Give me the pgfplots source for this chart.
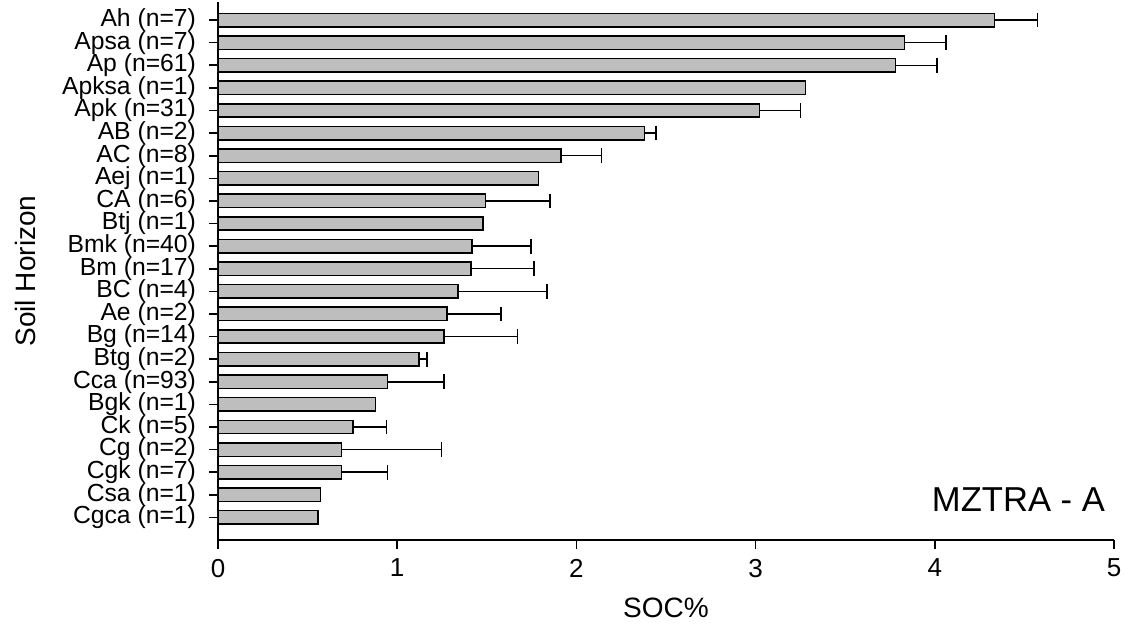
\documentclass[border=0pt]{standalone}
\usepackage{fontspec}
\setmainfont{Liberation Sans}
\usepackage{pgfplots}
\usepackage{pgfplotstable}
\pgfplotsset{compat=1.18}
\definecolor{bargray}{RGB}{190,190,190}
\pgfplotstableread{
y x e
0 0.559 0
1 0.571 0
2 0.688 0.259
3 0.690 0.556
4 0.754 0.185
5 0.880 0
6 0.945 0.317
7 1.123 0.043
8 1.262 0.408
9 1.278 0.301
10 1.340 0.496
11 1.413 0.349
12 1.417 0.329
13 1.479 0
14 1.493 0.359
15 1.788 0
16 1.915 0.225
17 2.379 0.065
18 3.022 0.228
19 3.279 0
20 3.780 0.233
21 3.832 0.230
22 4.332 0.242
}\soc
\begin{document}
\begin{tikzpicture}
\begin{axis}[
  at={(109pt,47.5pt)}, anchor=south west,
  scale only axis, width=448pt, height=269pt,
  xmin=0, xmax=5, ymin=-1, ymax=22.8,
  axis lines*=left,
  axis line style={-, line width=0.8pt, black},
  xtick={0,1,2,3,4,5}, ytick={0,...,22},
  yticklabels={{Cgca (n=1)},{Csa (n=1)},{Cgk (n=7)},{Cg (n=2)},{Ck (n=5)},{Bgk (n=1)},{Cca (n=93)},{Btg (n=2)},{Bg (n=14)},{Ae (n=2)},{BC (n=4)},{Bm (n=17)},{Bmk (n=40)},{Btj (n=1)},{CA (n=6)},{Aej (n=1)},{AC (n=8)},{AB (n=2)},{Apk (n=31)},{Apksa (n=1)},{Ap (n=61)},{Apsa (n=7)},{Ah (n=7)}},
  tick align=outside, major tick length=4.5pt,
  tick style={line width=0.8pt, black},
  /pgf/number format/assume math mode=true,
  xticklabel style={font=\fontsize{13}{15}\selectfont, yshift=-1.5pt},
  yticklabel style={font=\fontsize{12.35}{14}\selectfont, xshift=-3pt},
  xlabel={SOC\%}, ylabel={Soil Horizon},
  xlabel style={font=\fontsize{14}{16}\selectfont, at={(axis description cs:0.5,-0.1264)}, anchor=center},
  ylabel style={font=\fontsize{14}{16}\selectfont, at={(axis description cs:-0.2154,0.5)}, anchor=center},
]
\addplot[xbar, bar width=6.7pt, fill=bargray, draw=black, line width=0.75pt,
  error bars/.cd, x dir=plus, x explicit, error mark=none,
  error bar style={line width=0.75pt, black}]
  table[x=x, y=y, x error=e]{\soc};
\addplot[only marks, mark=|, mark size=3.7pt, mark options={line width=0.75pt, black}]
  table[x expr=\thisrow{x}+\thisrow{e}, y=y]{\soc};
\node[font=\fontsize{17.3}{20}\selectfont, anchor=center] at (axis description cs:0.8934,0.0743) {MZTRA - A};
\end{axis}
\pgfresetboundingbox
\path[use as bounding box] (0,0) rectangle (562.5pt,317.5pt);
\end{tikzpicture}
\end{document}
